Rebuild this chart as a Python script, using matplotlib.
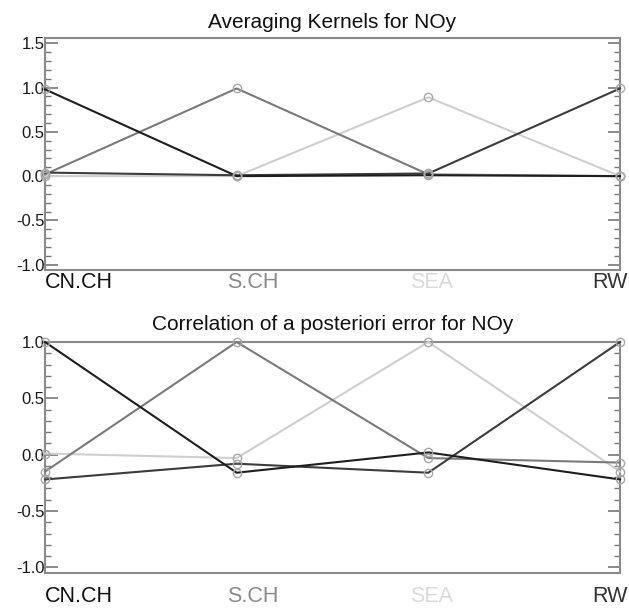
import matplotlib
matplotlib.use("Agg")
import matplotlib.pyplot as plt
from matplotlib.ticker import MultipleLocator
from matplotlib.transforms import IdentityTransform

plt.rcParams['font.family'] = ['Liberation Sans', 'DejaVu Sans']

categories = ["CN.CH", "S.CH", "SEA", "RW"]

# Averaging kernels (one row per region)
ak_cnch = [0.98, 0.00, 0.01, 0.00]
ak_sch = [0.02, 0.99, 0.02, 0.00]
ak_sea = [0.00, 0.00, 0.89, 0.00]
ak_rw = [0.04, 0.01, 0.03, 0.99]

# Correlation of a posteriori error
cr_cnch = [1.00, -0.16, 0.02, -0.22]
cr_sch = [-0.15, 1.00, -0.03, -0.07]
cr_sea = [0.01, -0.03, 1.00, -0.15]
cr_rw = [-0.22, -0.08, -0.16, 1.00]

titles = ["Averaging Kernels for NOy", "Correlation of a posteriori error for NOy"]

line_colors = ["#1e1e1e", "#7a7a7a", "#cfcfcf", "#3c3c3c"]
label_colors = ["#111111", "#8a8a8a", "#dadada", "#333333"]
label_px = [79, 253, 432, 610]   # label centres in pixels

fig = plt.figure(figsize=(6.29, 6.08), dpi=100)
ax1 = fig.add_axes([45/629, 1-270/608, 575/629, 232/608])
ax2 = fig.add_axes([45/629, 1-573/608, 575/629, 231/608])

panels = [
    (ax1, [ak_cnch, ak_sch, ak_sea, ak_rw], (-1.06, 1.56), 283, 22, titles[0]),
    (ax2, [cr_cnch, cr_sch, cr_sea, cr_rw], (-1.05, 1.0), 597, 325, titles[1]),
]

xs = list(range(len(categories)))
for ax, series, ylim, lab_y, title_y, title in panels:
    order = [2, 1, 3, 0]
    for i in order:
        ax.plot(xs, series[i], color=line_colors[i], lw=1.5, zorder=3 + (i != 2),
                clip_on=False)
    for i in order:
        ax.plot(xs, series[i], ls='none', marker='o', ms=6, mfc='none',
                mec='#a8a8a8', mew=1.0, zorder=6, clip_on=False)
    ax.set_xlim(0, 3)
    ax.set_ylim(*ylim)
    ax.yaxis.set_minor_locator(MultipleLocator(0.1))
    ax.set_yticks([-1.0, -0.5, 0.0, 0.5, 1.0] + ([1.5] if ylim[1] > 1.2 else []))
    ax.yaxis.set_major_formatter(plt.FuncFormatter(lambda v, p: f"{v:.1f}"))
    ax.tick_params(axis='y', which='major', direction='in', length=9, width=1.2,
                   left=True, right=True, labelsize=12, pad=0.5, colors='#777777',
                   labelcolor='#1a1a1a')
    ax.tick_params(axis='y', which='minor', direction='in', length=4.5, width=1.0,
                   left=True, right=True, colors='#777777')
    ax.set_xticks([])
    for s in ax.spines.values():
        s.set_color('#8a8a8a')
        s.set_linewidth(1.5)
    for i, c in enumerate(categories):
        ax.text(label_px[i], 608 - lab_y, c, transform=IdentityTransform(),
                color=label_colors[i], fontsize=15.5, ha='center', va='center')
    fig.text(0.5 * (45 + 620) / 629, 1 - title_y / 608, title,
             ha='center', va='center', fontsize=15, color='#111111')

fig.savefig("out.png", dpi=100)
